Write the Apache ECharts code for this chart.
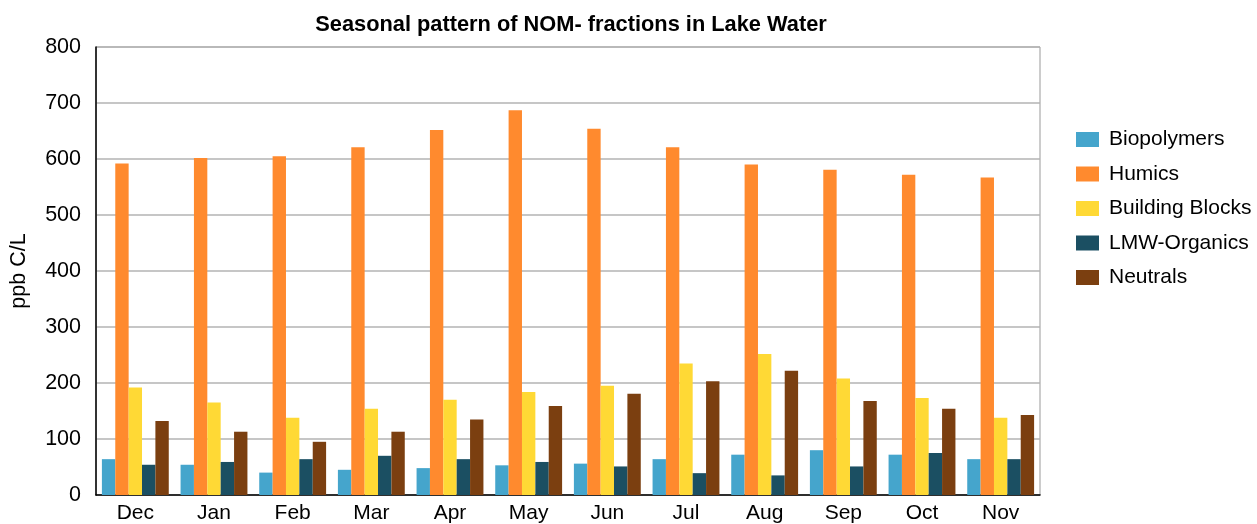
<!DOCTYPE html>
<html><head><meta charset="utf-8">
<script src="https://cdn.jsdelivr.net/npm/echarts@6/dist/echarts.min.js"></script>
<style>html,body{margin:0;padding:0;background:#fff}#c{width:1257px;height:524px}</style>
</head><body><div id="c"></div>
<script>
const categories = ['Dec','Jan','Feb','Mar','Apr','May','Jun','Jul','Aug','Sep','Oct','Nov'];
const biopolymers = [64,54,40,45,48,53,56,64,72,80,72,64];
const humics = [592,602,605,621,652,687,654,621,590,581,572,567];
const buildingBlocks = [192,165,138,154,170,184,195,235,252,208,173,138];
const lmwOrganics = [54,59,64,70,64,59,51,39,35,51,75,64];
const neutrals = [132,113,95,113,135,159,181,203,222,168,154,143];
const yTicks = [0,100,200,300,400,500,600,700,800];

const names = ['Biopolymers','Humics','Building Blocks','LMW-Organics','Neutrals'];
const colors = ['#45A5CC','#FF8A2E','#FFD935','#1B4F62','#7B3F10'];
const values = [biopolymers, humics, buildingBlocks, lmwOrganics, neutrals];
const font = 'Liberation Sans, Arial, sans-serif';

const chart = echarts.init(document.getElementById('c'));
chart.setOption({
  animation: false,
  title: { text: 'Seasonal pattern of NOM- fractions in Lake Water', left: 566, top: 9, textAlign: 'center',
    textStyle: { fontFamily: font, fontSize: 21.8, fontWeight: 'bold', color: '#000' } },
  legend: { orient: 'vertical', left: 1071, top: 124, itemWidth: 23, itemHeight: 15, itemGap: 13.5, icon: 'rect',
    textStyle: { fontFamily: font, fontSize: 21, color: '#000', padding: [0, 0, 0, 5] }, data: names },
  grid: { left: 96, right: 217, top: 47, bottom: 28, show: true, borderColor: '#999', borderWidth: 1, backgroundColor: 'transparent' },
  xAxis: { type: 'category', data: categories,
    axisLine: { lineStyle: { color: '#000', width: 1.5 } },
    axisTick: { inside: true, length: 8, lineStyle: { color: '#000' } },
    axisLabel: { fontFamily: font, fontSize: 21, color: '#000', margin: 8 } },
  yAxis: { type: 'value', min: 0, max: 800, interval: 100,
    name: 'ppb C/L', nameLocation: 'middle', nameGap: 66, nameRotate: 90,
    nameTextStyle: { fontFamily: font, fontSize: 21.5, color: '#000' },
    axisLine: { show: true, lineStyle: { color: '#000', width: 1.5 } },
    axisTick: { show: false },
    splitLine: { lineStyle: { color: '#b3b3b3', width: 1.5 } },
    axisLabel: { fontFamily: font, fontSize: 21.5, color: '#000', margin: 15,
      formatter: v => yTicks.includes(v) ? String(v) : '' } },
  series: names.map((n, i) => ({
    name: n, type: 'bar', data: values[i], barGap: '0%', barCategoryGap: '15%',
    itemStyle: { color: colors[i] }
  }))
});
</script></body></html>
